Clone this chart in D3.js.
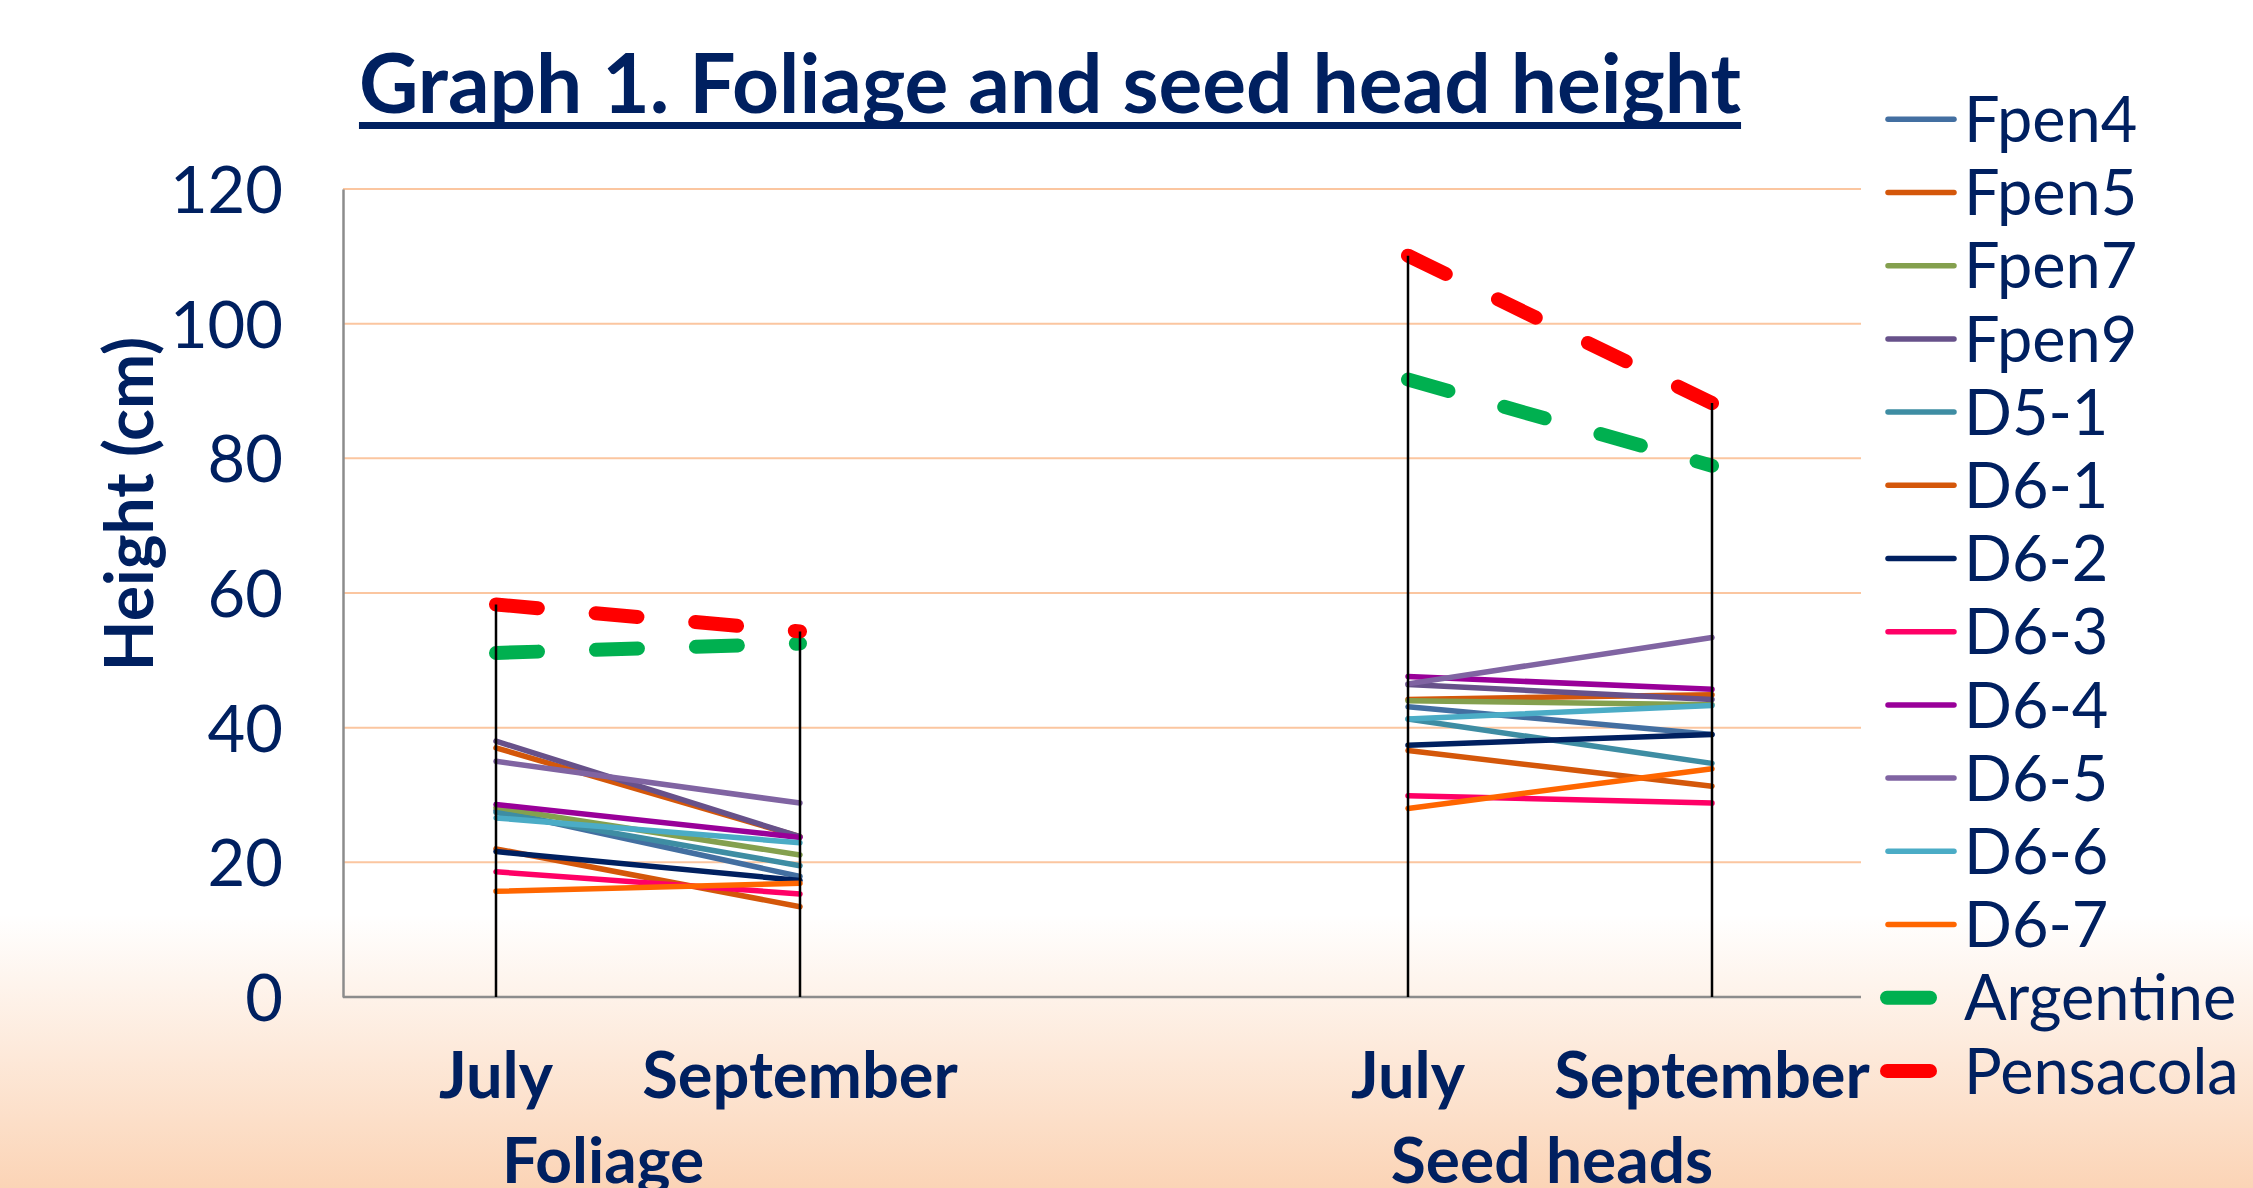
<!DOCTYPE html>
<meta charset="utf-8">
<style>
  body { margin: 0; background: #fff; }
  text { font-family: Lato, "Open Sans", sans-serif; fill: #002060; }
</style>
<body>
<script src="https://d3js.org/d3.v7.min.js"></script>
<script>

// Data (heights in cm)
var seriesNames = ["Fpen4", "Fpen5", "Fpen7", "Fpen9", "D5-1", "D6-1", "D6-2",
                   "D6-3", "D6-4", "D6-5", "D6-6", "D6-7", "Argentine", "Pensacola"];
var seriesColors = ["#436FA1", "#D4570A", "#84A04E", "#67518A", "#3E8DA3", "#D4570A", "#002060",
                    "#FF0066", "#990099", "#8064A2", "#4BACC6", "#FF6600", "#00B050", "#FF0000"];
var foliageJuly = [27.7, 37.0, 28.1, 38.0, 27.4, 22.0, 21.6, 18.6, 28.6, 35.0, 26.6, 15.7, 51.1, 58.3];
var foliageSept = [17.9, 23.8, 21.1, 23.8, 19.5, 13.4, 17.3, 15.3, 23.7, 28.8, 22.9, 16.9, 52.5, 54.3];
var seedJuly    = [43.1, 44.2, 44.0, 46.4, 41.3, 36.6, 37.4, 29.9, 47.6, 46.5, 41.3, 28.0, 91.7, 110.1];
var seedSept    = [39.0, 44.9, 43.4, 44.2, 34.7, 31.3, 39.0, 28.8, 45.7, 53.4, 43.3, 33.9, 78.9, 88.2];
var dashedSeries = ["Argentine", "Pensacola"];

var tickLabels = ["July", "September", "", "July", "September"];
var groupLabels = ["Foliage", "Seed heads"];
var yTicks = [0, 20, 40, 60, 80, 100, 120];

var W = 2253, H = 1188;
var plot = {left: 343, right: 1861, top: 189, bottom: 997};

var svg = d3.select("body").append("svg")
    .attr("width", W)
    .attr("height", H);

// slide background: white fading to peach at the bottom
var grad = svg.append("defs").append("linearGradient")
    .attr("id", "bg").attr("x1", 0).attr("y1", 0).attr("x2", 0).attr("y2", 1);
grad.append("stop").attr("offset", 0).attr("stop-color", "#ffffff");
grad.append("stop").attr("offset", 0.77).attr("stop-color", "#ffffff");
grad.append("stop").attr("offset", 1).attr("stop-color", "#FBD4B6");
svg.append("rect").attr("width", W).attr("height", H).attr("fill", "url(#bg)");

var x = d3.scaleBand()
    .domain(d3.range(tickLabels.length))
    .range([plot.left + 1, plot.left + 1 + 5 * 304]);
var y = d3.scaleLinear()
    .domain([0, 120])
    .range([plot.bottom, plot.top]);
var cx = function(i) { return x(i) + x.bandwidth() / 2; };

// gridlines
svg.append("g").selectAll("line")
    .data(yTicks.slice(1))
  .enter().append("line")
    .attr("x1", plot.left).attr("x2", plot.right)
    .attr("y1", function(d) { return y(d); })
    .attr("y2", function(d) { return y(d); })
    .attr("stroke", "#FBC6A0")
    .attr("stroke-width", 2);

// y axis
var yAxis = svg.append("g")
    .attr("transform", "translate(" + plot.left + ",0)")
    .call(d3.axisLeft(y).tickValues(yTicks).tickSize(0).tickSizeOuter(0).tickPadding(60));
yAxis.select(".domain").attr("stroke", "#8C8C8C").attr("stroke-width", 2.5);
yAxis.selectAll("text")
    .attr("dy", "0.36em")
    .style("font-size", "65px");

// x axis
var xAxis = svg.append("g")
    .attr("transform", "translate(0," + plot.bottom + ")")
    .call(d3.axisBottom(x).tickSize(0).tickSizeOuter(0)
      .tickFormat(function(i) { return tickLabels[i]; }));
xAxis.select(".domain").attr("d", "M" + plot.left + ",0H" + plot.right)
    .attr("stroke", "#8C8C8C").attr("stroke-width", 2.5);
xAxis.selectAll("text")
    .attr("y", 101).attr("dy", 0)
    .style("font-size", "65px")
    .style("font-weight", "bold");

// group labels under the month labels
svg.selectAll(".group")
    .data(groupLabels)
  .enter().append("text")
    .attr("class", "group")
    .attr("x", function(d, i) { return i === 0 ? 603 : 1552; })
    .attr("y", 1183)
    .attr("text-anchor", "middle")
    .style("font-size", "64px")
    .style("font-weight", "bold")
    .text(function(d) { return d; });

// series lines, one segment per group
var line = d3.line()
    .x(function(d) { return cx(d.i); })
    .y(function(d) { return y(d.v); });

var segments = [];
seriesNames.forEach(function(name, k) {
  segments.push({name: name, k: k, pts: [{i: 0, v: foliageJuly[k]}, {i: 1, v: foliageSept[k]}]});
  segments.push({name: name, k: k, pts: [{i: 3, v: seedJuly[k]}, {i: 4, v: seedSept[k]}]});
});

svg.append("g").selectAll("path")
    .data(segments)
  .enter().append("path")
    .attr("d", function(d) { return line(d.pts); })
    .attr("fill", "none")
    .attr("stroke", function(d) { return seriesColors[d.k]; })
    .attr("stroke-linecap", "round")
    .attr("stroke-width", function(d) { return dashedSeries.indexOf(d.name) >= 0 ? 14 : 5.5; })
    .attr("stroke-dasharray", function(d) { return dashedSeries.indexOf(d.name) >= 0 ? "42,58" : null; });

// drop lines from the highest point of each category to the axis
var catValues = [foliageJuly, foliageSept, null, seedJuly, seedSept];
svg.append("g").selectAll("line")
    .data([0, 1, 3, 4])
  .enter().append("line")
    .attr("x1", cx).attr("x2", cx)
    .attr("y1", function(i) { return y(d3.max(catValues[i])); })
    .attr("y2", plot.bottom)
    .attr("stroke", "#000")
    .attr("stroke-width", 2.5);

// legend
var legend = svg.append("g").selectAll("g")
    .data(seriesNames)
  .enter().append("g")
    .attr("transform", function(d, i) { return "translate(0," + (119.3 + i * 73.2) + ")"; });
legend.append("line")
    .attr("x1", function(d) { return dashedSeries.indexOf(d) >= 0 ? 1887 : 1888; })
    .attr("x2", function(d) { return dashedSeries.indexOf(d) >= 0 ? 1930 : 1954; })
    .attr("stroke", function(d, i) { return seriesColors[i]; })
    .attr("stroke-linecap", "round")
    .attr("stroke-width", function(d) { return dashedSeries.indexOf(d) >= 0 ? 14 : 5.5; });
legend.append("text")
    .attr("x", 1964)
    .attr("dy", "0.36em")
    .style("font-size", "63px")
    .text(function(d) { return d; });

// axis title
svg.append("text")
    .attr("transform", "translate(153,504) rotate(-90)")
    .attr("text-anchor", "middle")
    .style("font-size", "66px")
    .style("font-weight", "bold")
    .text("Height (cm)");

// chart title, underlined
var title = svg.append("text")
    .attr("x", 1050)
    .attr("y", 113)
    .attr("text-anchor", "middle")
    .style("font-size", "82px")
    .style("font-weight", "bold")
    .text("Graph 1. Foliage and seed head height");
var tw = title.node().getComputedTextLength();
svg.append("rect")
    .attr("x", 1050 - tw / 2)
    .attr("y", 122)
    .attr("width", tw)
    .attr("height", 7)
    .attr("fill", "#002060");

</script>
